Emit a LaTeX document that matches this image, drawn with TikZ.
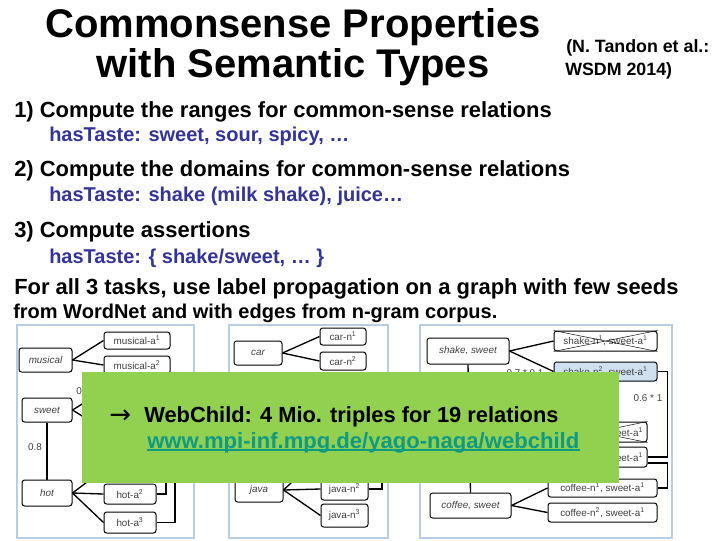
\documentclass[tikz,border=0pt]{standalone}
\usepackage{fontspec}
\setmainfont{Liberation Sans}
\newfontfamily\arrowfont{DejaVu Sans}
\definecolor{bodyblue}{HTML}{333399}
\definecolor{linkteal}{HTML}{0F9A84}
\definecolor{greenbox}{HTML}{92D050}
\definecolor{panelblue}{HTML}{B9CDE5}
\definecolor{seedblue}{HTML}{CFE0F1}
\definecolor{labelgray}{HTML}{404040}
\newcommand{\fsz}[1]{\fontsize{#1}{#1}\selectfont}
\newcommand{\sq}[1]{\textsuperscript{#1}}
% \bx[style]{name}{x1}{y1}{x2}{y2}{text}
\newcommand{\bx}[7][]{%
  \pgfmathsetmacro{\bw}{(#5-#3)*0.75}%
  \pgfmathsetmacro{\bh}{(#6-#4)*0.75}%
  \pgfmathsetmacro{\bcx}{(#5+#3)/2}%
  \pgfmathsetmacro{\bcy}{-(#6+#4)/2}%
  \node[gbox,minimum width=\bw pt,minimum height=\bh pt,#1] (#2) at (\bcx,\bcy) {#7};}
\tikzset{
  x=0.75pt,y=0.75pt,
  gbox/.style={draw=black,line width=0.75pt,rounded corners=2pt,fill=white,inner sep=0pt,text=labelgray,font=\fsz{7.4}},
  seed/.style={font=\fsz{7.4}\itshape},
  panel/.style={draw=panelblue,line width=0.9pt,fill=white},
  edge/.style={draw=black,line width=1pt},
  cross/.style={draw=black,line width=0.35pt},
  heading/.style={anchor=base west,inner sep=0pt,text=black},
  titletext/.style={anchor=base,inner sep=0pt,font=\fsz{30}\bfseries},
  step text/.style={heading,font=\fsz{16.45}\bfseries},
  sub text/.style={heading,font=\fsz{15}\bfseries,text=bodyblue},
  weight/.style={inner sep=0pt,font=\fsz{7.4},text=labelgray},
}
\begin{document}
\begin{tikzpicture}
\useasboundingbox[fill=white] (0,0) rectangle (720,-540);
% headings
\node[titletext] (t1) at (293,-37) {Commonsense Properties};
\node[titletext] (t2) at (293,-77) {with Semantic Types};
\node[heading,font=\fsz{13.35}\bfseries] (c1) at (566,-52) {(N. Tandon et al.:};
\node[heading,font=\fsz{13.35}\bfseries] (c2) at (565,-75) {WSDM 2014)};
\node[step text] (s1) at (14,-117) {1) Compute the ranges for common-sense relations};
\node[sub text] (u1) at (49,-141) {hasTaste: sweet, sour, spicy, …};
\node[step text] (s2) at (14,-176) {2) Compute the domains for common-sense relations};
\node[sub text] (u2) at (49,-201) {hasTaste: shake (milk shake), juice…};
\node[step text] (s3) at (14,-237) {3) Compute assertions};
\node[sub text] (u3) at (49,-263) {hasTaste: \{ shake/sweet, … \}};
\node[step text] (s4) at (14,-294) {For all 3 tasks, use label propagation on a graph with few seeds};
\node[heading,font=\fsz{15}\bfseries] (s5) at (13,-318) {from WordNet and with edges from n-gram corpus.};
% panels
\draw[panel] (17,-325) rectangle (194,-538);
\draw[panel] (229,-325) rectangle (388,-538);
\draw[panel] (420,-325) rectangle (672,-538);
% panel 1
\bx[seed]{musical}{19}{348}{72}{372}{musical}
\bx{ma1}{104}{332}{170}{349}{musical-a\sq{1}}
\bx{ma2}{104}{356}{170}{374}{musical-a\sq{2}}
\bx[seed]{sweet}{22}{398}{72}{422}{sweet}
\bx[seed]{hot}{22}{480}{72}{506}{hot}
\bx{ha2}{104}{484}{156}{504}{hot-a\sq{2}}
\bx{ha3}{104}{512}{156}{533}{hot-a\sq{3}}
\coordinate (sw1) at (95,-396);
\coordinate (sw2) at (95,-424);
\coordinate (ho1) at (95,-476);
\coordinate (ha2up) at (166,-470);
\coordinate (ha3up) at (175,-470);
\draw[edge] (musical.east) -- (ma1.west);
\draw[edge] (musical.east) -- (ma2.west);
\draw[edge] (sweet.east) -- (sw1);
\draw[edge] (sweet.east) -- (sw2);
\draw[edge] (sweet.south) -- (hot.north);
\draw[edge] (hot.east) -- (ho1);
\draw[edge] (hot.east) -- (ha2.west);
\draw[edge] (hot.east) -- (ha3.west);
\draw[edge] (ha2.east) -| (ha2up);
\draw[edge] (ha3.east) -| (ha3up);
\node[weight] (w08) at (35,-447) {0.8};
\node[weight,anchor=west] (w0) at (76,-391) {0.7};
% panel 2
\bx[seed]{car}{234}{341}{282}{365}{car}
\bx{cn1x}{320}{328}{366}{345}{car-n\sq{1}}
\bx{cn2x}{320}{352}{366}{370}{car-n\sq{2}}
\bx[seed]{java}{235}{478}{283}{502}{java}
\bx{jn2}{321}{478}{368}{500}{java-n\sq{2}}
\bx{jn3}{321}{504}{368}{527}{java-n\sq{3}}
\coordinate (ja1) at (305,-470);
\coordinate (jn2up) at (382,-470);
\draw[edge] (car.east) -- (cn1x.west);
\draw[edge] (car.east) -- (cn2x.west);
\draw[edge] (java.east) -- (ja1);
\draw[edge] (java.east) -- (jn2.west);
\draw[edge] (java.east) -- (jn3.west);
\draw[edge] (jn2.east) -| (jn2up);
% panel 3
\bx[seed]{shake}{427}{338}{509}{364}{shake, sweet}
\bx[seed]{coffee}{430}{493}{511}{518}{coffee, sweet}
\bx{sn1}{554}{331}{657}{351}{shake-n\sq{1}, sweet-a\sq{1}}
\bx[fill=seedblue]{sn2}{554}{362}{657}{381}{shake-n\sq{2}, sweet-a\sq{1}}
\bx{xa}{545}{422}{647}{442}{\makebox[\bw pt][r]{sweet-a\sq{1}\hspace*{3pt}}}
\bx{xb}{545}{447}{647}{467}{\makebox[\bw pt][r]{sweet-a\sq{1}\hspace*{3pt}}}
\bx{co1}{548}{479}{657}{497}{coffee-n\sq{1}, sweet-a\sq{1}}
\bx{co2}{548}{503}{657}{522}{coffee-n\sq{2}, sweet-a\sq{1}}
\draw[cross] (sn1.north west) -- (sn1.south east);
\draw[cross] (sn1.south west) -- (sn1.north east);
\draw[cross] (xa.north west) -- (xa.south east);
\draw[cross] (xa.south west) -- (xa.north east);
\draw[edge] (shake.east) -- (sn1.west);
\draw[edge] (shake.east) -- (sn2.west);
\draw[edge] (shake.south) -- (coffee.north);
\draw[edge] (coffee.east) -- (co1.west);
\draw[edge] (coffee.east) -- (co2.west);
\draw[edge] (sn2.east) -- ++(10,0) |- (xb.east);
\draw[edge] ([yshift=-4.5pt]xb.east) -- ++(20,0) |- (co1.east);
\node[weight] (w06) at (648,-398) {0.6 * 1};
\node[weight] (w07) at (525,-373) {0.7 * 0.1};
% overlay
\node[fill=greenbox,draw=none,inner sep=0pt,minimum width=402.75pt,minimum height=83.25pt] (overlay) at (350.5,-427.5) {};
\node[heading,font=\fsz{19.5}\arrowfont] (arrow) at (109,-423) {→};
\node[heading,font=\fsz{16.4}\bfseries] (wc) at (144,-422) {WebChild: 4 Mio. triples for 19 relations};
\node[heading,font=\fsz{16.55}\bfseries,text=linkteal] (link) at (147,-448) {www.mpi-inf.mpg.de/yago-naga/webchild};
\draw[linkteal,line width=1.2pt] ([yshift=-1.6pt]link.base west) -- ([yshift=-1.6pt]link.base east);
\end{tikzpicture}
\end{document}
